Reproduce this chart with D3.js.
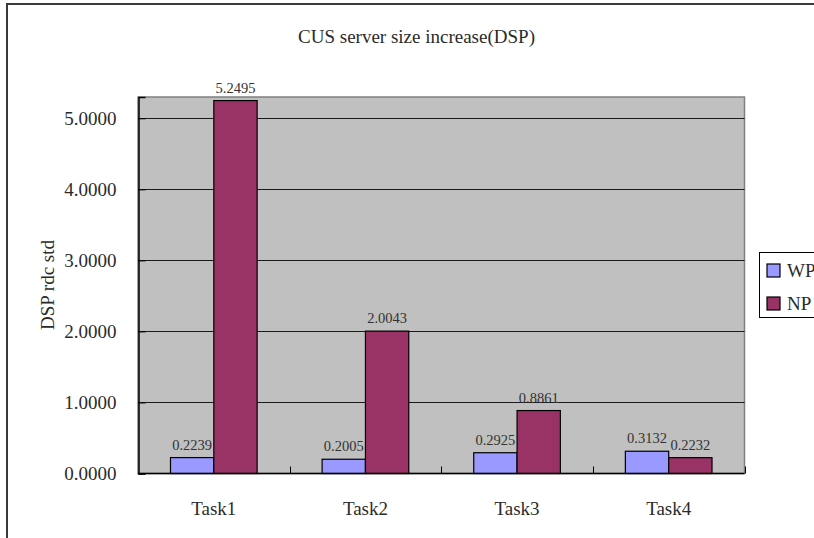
<!DOCTYPE html>
<html>
<head>
<meta charset="utf-8">
<script src="https://cdn.jsdelivr.net/npm/d3@7"></script>
<style>
  html, body { margin: 0; padding: 0; background: #fff; }
  svg { display: block; }
  text { font-family: "Liberation Serif", "Times New Roman", serif; fill: #2b2b2b; }
</style>
</head>
<body>
<svg id="chart" width="814" height="538"></svg>
<script>
// Chart data
const tasks = ["Task1", "Task2", "Task3", "Task4"];
const seriesNames = ["WP", "NP"];
const wpValues = [0.2239, 0.2005, 0.2925, 0.3132];
const npValues = [5.2495, 2.0043, 0.8861, 0.2232];
const seriesColors = ["#9999ff", "#993366"];
const yTicks = [0, 1, 2, 3, 4, 5];
const yMax = 5.3;
const titleText = "CUS server size increase(DSP)";
const yTitle = "DSP rdc std";

const svg = d3.select("#chart");
const W = 814, H = 538;
const plot = { left: 138, right: 744.5, top: 97, bottom: 473.5 };

// Outer chart frame (top and left edges visible)
svg.append("path")
  .attr("d", `M7,${H + 5} L7,4 L${W + 5},4`)
  .attr("fill", "none")
  .attr("stroke", "#3a3a3a")
  .attr("stroke-width", 2);

// Scales
const x = d3.scaleBand().domain(tasks).range([plot.left, plot.right]).padding(0);
const y = d3.scaleLinear().domain([0, yMax]).range([plot.bottom, plot.top]);

const bw = x.bandwidth();
const barW = bw / 3.5;          // two bars plus a 150% gap
const groupOffset = barW * 0.75;

// Plot area background
svg.append("rect")
  .attr("x", plot.left).attr("y", plot.top)
  .attr("width", plot.right - plot.left)
  .attr("height", plot.bottom - plot.top)
  .attr("fill", "#c0c0c0")
  .attr("stroke", "#808080")
  .attr("stroke-width", 1.5);

// Horizontal gridlines
svg.append("g").selectAll("line")
  .data(yTicks.filter(d => d > 0))
  .join("line")
  .attr("x1", plot.left).attr("x2", plot.right)
  .attr("y1", d => Math.round(y(d)) + 0.5)
  .attr("y2", d => Math.round(y(d)) + 0.5)
  .attr("stroke", "#1a1a1a")
  .attr("stroke-width", 1);

// Bars
const seriesData = [wpValues, npValues];
seriesData.forEach((vals, si) => {
  const g = svg.append("g");
  g.selectAll("rect")
    .data(tasks.map((t, i) => ({ t, v: vals[i] })))
    .join("rect")
    .attr("x", d => x(d.t) + groupOffset + si * barW)
    .attr("y", d => y(d.v))
    .attr("width", barW)
    .attr("height", d => y(0) - y(d.v))
    .attr("fill", seriesColors[si])
    .attr("stroke", "#000")
    .attr("stroke-width", 1.2);
  g.selectAll("text")
    .data(tasks.map((t, i) => ({ t, v: vals[i] })))
    .join("text")
    .attr("x", d => x(d.t) + groupOffset + si * barW + barW / 2)
    .attr("y", d => y(d.v) - 8)
    .attr("text-anchor", "middle")
    .attr("font-size", 14.5)
    .style("fill", "#333")
    .text(d => d3.format(".4f")(d.v));
});

// Y axis
const yAxis = svg.append("g")
  .attr("transform", `translate(${plot.left + 0.5},0)`)
  .call(d3.axisLeft(y).tickValues(yTicks).tickSize(-7).tickPadding(22).tickFormat(d3.format(".4f")));
yAxis.select(".domain").attr("stroke", "#000").attr("stroke-width", 1.5);
yAxis.selectAll(".tick line").attr("stroke", "#000");
yAxis.selectAll(".tick text")
  .attr("font-size", 19)
  .attr("font-family", "Liberation Serif")
  .style("fill", "#2b2b2b");

// X axis line and category boundary ticks
svg.append("line")
  .attr("x1", plot.left).attr("x2", plot.right)
  .attr("y1", plot.bottom).attr("y2", plot.bottom)
  .attr("stroke", "#000").attr("stroke-width", 1.5);
const bounds = tasks.map(t => x(t)).concat([plot.right]).slice(1);
svg.append("g").selectAll("line")
  .data(bounds)
  .join("line")
  .attr("x1", d => Math.round(d) + 0.5).attr("x2", d => Math.round(d) + 0.5)
  .attr("y1", plot.bottom).attr("y2", plot.bottom - 7)
  .attr("stroke", "#000").attr("stroke-width", 1);

// Category labels
svg.append("g").selectAll("text")
  .data(tasks)
  .join("text")
  .attr("x", d => x(d) + bw / 2)
  .attr("y", 515)
  .attr("text-anchor", "middle")
  .attr("font-size", 19)
  .text(d => d);

// Title
svg.append("text")
  .attr("x", 416.5).attr("y", 43)
  .attr("text-anchor", "middle")
  .attr("font-size", 19)
  .text(titleText);

// Y axis title
svg.append("text")
  .attr("transform", "translate(54,285) rotate(-90)")
  .attr("text-anchor", "middle")
  .attr("font-size", 19)
  .text(yTitle);

// Legend
const legend = svg.append("g");
legend.append("rect")
  .attr("x", 759.5).attr("y", 252.5)
  .attr("width", 80).attr("height", 65)
  .attr("fill", "#fff")
  .attr("stroke", "#000").attr("stroke-width", 1);
seriesNames.forEach((name, i) => {
  const cy = 270.5 + i * 33;
  legend.append("rect")
    .attr("x", 767).attr("y", cy - 6.5)
    .attr("width", 13).attr("height", 13)
    .attr("fill", seriesColors[i])
    .attr("stroke", "#000").attr("stroke-width", 1.2);
  legend.append("text")
    .attr("x", 787).attr("y", cy + 6.5)
    .attr("font-size", 19)
    .text(name);
});
</script>
</body>
</html>
